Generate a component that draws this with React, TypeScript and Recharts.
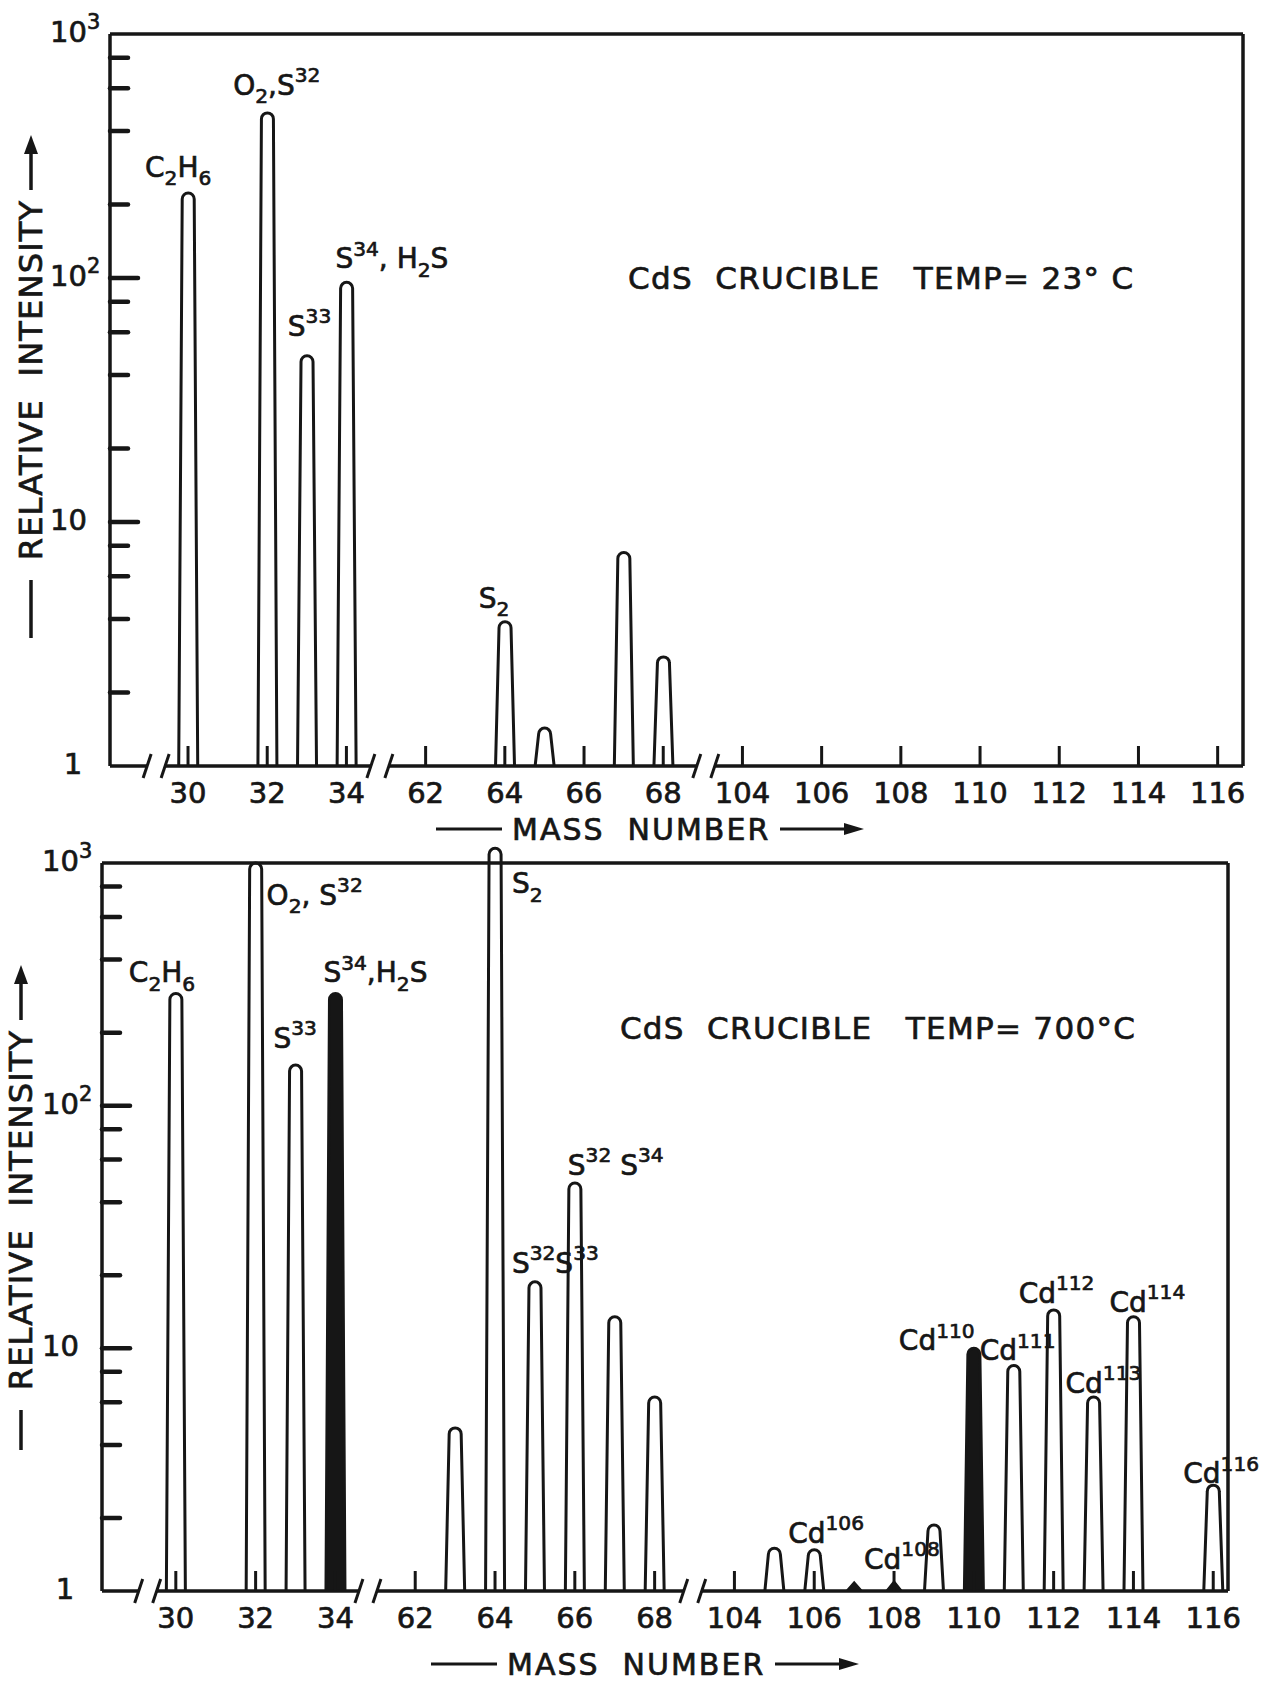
import React from "react";
import { ComposedChart, Bar, XAxis, YAxis, ReferenceLine, ReferenceDot } from "recharts";

const INK = "#161616";
const FONT = "'DejaVu Sans', 'Liberation Sans', sans-serif";
const TEXT_STROKE = { stroke: INK, strokeWidth: 0.7 };

// broken mass axis: 30-34 | 62-68 | 104-116
const massTicks = [30, 32, 34, 62, 64, 66, 68, 104, 106, 108, 110, 112, 114, 116];
const intensityTicks = [1, 2, 4, 6, 8, 10, 20, 40, 60, 80, 100, 200, 400, 600, 800, 1000];

// crucible at 23 C
const massCold = [30, 32, 33, 34, 64, 65, 67, 68];
const intensityCold = [223, 475, 48, 96, 3.9, 1.43, 7.5, 2.8];

// crucible at 700 C
const massHot = [30, 32, 33, 34, 63, 64, 65, 66, 67, 68, 105, 106, 107, 108, 109, 110, 111, 112, 113, 114, 116];
const intensityHot = [290, 1000, 147, 290, 4.7, 1150, 18.8, 48, 13.5, 6.3, 1.5, 1.48, 1.09, 1.1, 1.87, 10, 8.5, 14.4, 6.3, 13.5, 2.73];

const labelsCold = [
  { mass: 30, text: "C_2H_6", dx: -43, dy: -16 },
  { mass: 32, text: "O_2,S^32", dx: -34, dy: -18 },
  { mass: 33, text: "S^33", dx: -19, dy: -20 },
  { mass: 34, text: "S^34, H_2S", dx: -11, dy: -14 },
  { mass: 64, text: "S_2", dx: -26, dy: -14 },
];

const labelsHot = [
  { mass: 30, text: "C_2H_6", dx: -47, dy: -11 },
  { mass: 32, text: "O_2, S^32", dx: 11, dy: 42 },
  { mass: 33, text: "S^33", dx: -22, dy: -17 },
  { mass: 34, text: "S^34,H_2S", dx: -12, dy: -11 },
  { mass: 64, text: "S_2", dx: 17, dy: 45 },
  { mass: 65, text: "S^32S^33", dx: -23, dy: -9 },
  { mass: 66, text: "S^32 S^34", dx: -7, dy: -8 },
  { mass: 106, text: "Cd^106", dx: -26, dy: -7 },
  { mass: 108, text: "Cd^108", dx: -30, dy: -12 },
  { mass: 110, text: "Cd^110", dx: -75, dy: 2 },
  { mass: 111, text: "Cd^111", dx: -34, dy: -5 },
  { mass: 112, text: "Cd^112", dx: -35, dy: -7 },
  { mass: 113, text: "Cd^113", dx: -28, dy: -4 },
  { mass: 114, text: "Cd^114", dx: -24, dy: -5 },
  { mass: 116, text: "Cd^116", dx: -30, dy: -2 },
];

const solidHot = [34, 110];

const toAxis = (m: number) => (m < 50 ? m - 30 : m < 100 ? m - 56 : m - 90);
const fromAxis = (v: number) => (v <= 4.5 ? v + 30 : v <= 12.5 ? v + 56 : v + 90);

function Rich({ x, y, text, size = 28 }: any) {
  const tokens = Array.from(String(text).matchAll(/([_^])(\d+)|([^_^]+)/g));
  let shift = 0;
  return (
    <text x={x} y={y} fontSize={size} fontFamily={FONT} fill={INK} {...TEXT_STROKE} style={{ whiteSpace: "pre" }}>
      {tokens.map((m: any, i: number) => {
        let target = 0;
        let fs = size;
        let str = m[3];
        if (m[1]) {
          target = m[1] === "^" ? -size * 0.45 : size * 0.3;
          fs = size * 0.72;
          str = m[2];
        }
        const dy = target - shift;
        shift = target;
        return (
          <tspan key={i} dy={dy} fontSize={fs}>
            {str}
          </tspan>
        );
      })}
    </text>
  );
}

function Peak(props: any) {
  const { x, y, width, height, solid } = props;
  if (!Number.isFinite(y) || !Number.isFinite(height)) return null;
  const cx = x + width / 2;
  const base = y + height;
  if (height < 14) {
    return <path d={`M${cx - 8},${base} L${cx},${y} L${cx + 8},${base} Z`} fill={INK} stroke={INK} strokeWidth={1.5} />;
  }
  const hb = 9.5;
  const ht = 6;
  const d = `M${cx - hb},${base} L${cx - ht},${y + ht} A${ht},${ht} 0 0 1 ${cx + ht},${y + ht} L${cx + hb},${base}`;
  return <path d={d} fill={solid ? INK : "none"} stroke={INK} strokeWidth={3} strokeLinejoin="round" />;
}

function XTick({ x, y, payload }: any) {
  return (
    <g>
      <line x1={x} x2={x} y1={y} y2={y - 20} stroke={INK} strokeWidth={3} />
      <text x={x} y={y + 37} textAnchor="middle" fontSize={29} fontFamily={FONT} fill={INK} {...TEXT_STROKE}>
        {Math.round(fromAxis(payload.value))}
      </text>
    </g>
  );
}

function YTick({ x, y, payload }: any) {
  const v = payload.value;
  const lg = Math.log10(v);
  const exp = Math.round(lg);
  const decade = Math.abs(lg - exp) < 1e-6;
  const len = v === 10 || v === 100 ? 28 : 18;
  return (
    <g>
      {v > 1 && v < 1000 && <line x1={x} x2={x + len} y1={y} y2={y} stroke={INK} strokeWidth={4.5} strokeLinecap="round" />}
      {decade &&
        (v === 1 ? (
          <text x={x - 37} y={y + 8} textAnchor="middle" fontSize={29} fontFamily={FONT} fill={INK} {...TEXT_STROKE}>
            1
          </text>
        ) : (
          <Rich x={x - 60} y={y + 8} text={exp === 1 ? "10" : `10^${exp}`} size={29} />
        ))}
    </g>
  );
}

function AxisBreak({ cx, cy }: any) {
  return (
    <g>
      <rect x={cx - 10} y={cy - 4} width={18} height={8} fill="#fff" />
      <line x1={cx - 14} y1={cy + 12} x2={cx - 6} y2={cy - 12} stroke={INK} strokeWidth={3} />
      <line x1={cx + 4} y1={cy + 12} x2={cx + 12} y2={cy - 12} stroke={INK} strokeWidth={3} />
    </g>
  );
}

function VTitle({ cx, cy, dash }: any) {
  return (
    <g transform={`translate(${cx},${cy}) rotate(-90)`}>
      <text x={0} y={0} textAnchor="middle" dominantBaseline="central" fontSize={32} letterSpacing={1.2} fontFamily={FONT} fill={INK} {...TEXT_STROKE} style={{ whiteSpace: "pre" }}>
        RELATIVE  INTENSITY
      </text>
      <line x1={-200} x2={-200 - dash} y1={0} y2={0} stroke={INK} strokeWidth={3.5} />
      <line x1={190} x2={230} y1={0} y2={0} stroke={INK} strokeWidth={3.5} />
      <path d="M245,0 L226,-7 L226,7 Z" fill={INK} />
    </g>
  );
}

function MassTitle({ sx, by }: any) {
  const w = 262;
  return (
    <g>
      <line x1={sx - 76} x2={sx - 10} y1={by - 11} y2={by - 11} stroke={INK} strokeWidth={3} />
      <text x={sx} y={by} fontSize={30} letterSpacing={2} fontFamily={FONT} fill={INK} {...TEXT_STROKE} style={{ whiteSpace: "pre" }}>
        MASS  NUMBER
      </text>
      <line x1={sx + w + 6} x2={sx + w + 74} y1={by - 11} y2={by - 11} stroke={INK} strokeWidth={3} />
      <path d={`M${sx + w + 90},${by - 11} L${sx + w + 70},${by - 17} L${sx + w + 70},${by - 5} Z`} fill={INK} />
    </g>
  );
}

function Panel(props: any) {
  const { masses, values, labels, solid, width, height, margin, yWidth, xHeight, xDomain, breaks, title, titleAt, vTitle, massTitle } = props;
  const rows = masses.map((m: number, i: number) => ({ pos: toAxis(m), mass: m, value: values[i] }));
  const valueOf = (m: number) => values[masses.indexOf(m)];
  const [x0, x1] = xDomain;
  const frame = { stroke: INK, strokeWidth: 3.5, ifOverflow: "visible" as const };
  return (
    <ComposedChart width={width} height={height} data={rows} margin={margin}>
      <XAxis
        dataKey="pos"
        type="number"
        domain={xDomain}
        allowDataOverflow
        ticks={massTicks.map(toAxis)}
        interval={0}
        tickSize={0}
        tickMargin={0}
        tickLine={false}
        axisLine={{ stroke: INK, strokeWidth: 3.5 }}
        tick={(p: any) => <XTick {...p} />}
        height={xHeight}
        label={<MassTitle sx={massTitle[0]} by={massTitle[1]} />}
      />
      <YAxis
        scale="log"
        type="number"
        domain={[1, 1300]}
        allowDataOverflow
        ticks={intensityTicks}
        interval={0}
        tickSize={0}
        tickMargin={0}
        tickLine={false}
        axisLine={false}
        width={yWidth}
        tick={(p: any) => <YTick {...p} />}
        label={<VTitle cx={vTitle[0]} cy={vTitle[1]} dash={vTitle[2]} />}
      />
      <ReferenceLine y={1000} {...frame} />
      <ReferenceLine segment={[{ x: x0, y: 1 }, { x: x0, y: 1000 }]} {...frame} />
      <ReferenceLine segment={[{ x: x1, y: 1 }, { x: x1, y: 1000 }]} {...frame} />
      <Bar
        dataKey="value"
        barSize={22}
        isAnimationActive={false}
        shape={(p: any) => <Peak {...p} solid={solid.includes(p.payload?.mass)} />}
      />
      {breaks.map((b: number) => (
        <ReferenceDot key={`br${b}`} x={b} y={1} r={0} ifOverflow="visible" shape={(p: any) => <AxisBreak cx={p.cx} cy={p.cy} />} />
      ))}
      {labels.map((l: any) => (
        <ReferenceDot
          key={`lb${l.mass}`}
          x={toAxis(l.mass)}
          y={valueOf(l.mass)}
          r={0}
          ifOverflow="visible"
          shape={(p: any) => <Rich x={p.cx + l.dx} y={p.cy + l.dy} text={l.text} size={28} />}
        />
      ))}
      <ReferenceDot
        x={titleAt[0]}
        y={titleAt[1]}
        r={0}
        ifOverflow="visible"
        shape={(p: any) => (
          <text x={p.cx} y={p.cy + 11} fontSize={31} letterSpacing={1.3} fontFamily={FONT} fill={INK} {...TEXT_STROKE} style={{ whiteSpace: "pre" }}>
            {title}
          </text>
        )}
      />
    </ComposedChart>
  );
}

export default function App() {
  return (
    <div style={{ position: "absolute", left: 0, top: 0, width: 1264, height: 1683, background: "#fff" }}>
      <div style={{ position: "absolute", left: 0, top: 0 }}>
        <Panel
          masses={massCold}
          values={intensityCold}
          labels={labelsCold}
          solid={[]}
          width={1264}
          height={850}
          margin={{ top: 6.2, right: 21, bottom: 0, left: 0 }}
          yWidth={110}
          xHeight={84}
          xDomain={[-1.97, 26.64]}
          breaks={[-0.78, 4.87, 13.1]}
          title={"CdS  CRUCIBLE   TEMP= 23° C"}
          titleAt={[11.11, 100]}
          vTitle={[31, 380, 58]}
          massTitle={[512, 840]}
        />
      </div>
      <div style={{ position: "absolute", left: 0, top: 830 }}>
        <Panel
          masses={massHot}
          values={intensityHot}
          labels={labelsHot}
          solid={solidHot}
          width={1264}
          height={853}
          margin={{ top: 5.4, right: 36, bottom: 0, left: 0 }}
          yWidth={102}
          xHeight={92}
          xDomain={[-1.85, 26.37]}
          breaks={[-0.68, 4.84, 12.98]}
          title={"CdS  CRUCIBLE   TEMP= 700°C"}
          titleAt={[11.13, 209]}
          vTitle={[21, 380, 40]}
          massTitle={[507, 845]}
        />
      </div>
    </div>
  );
}
